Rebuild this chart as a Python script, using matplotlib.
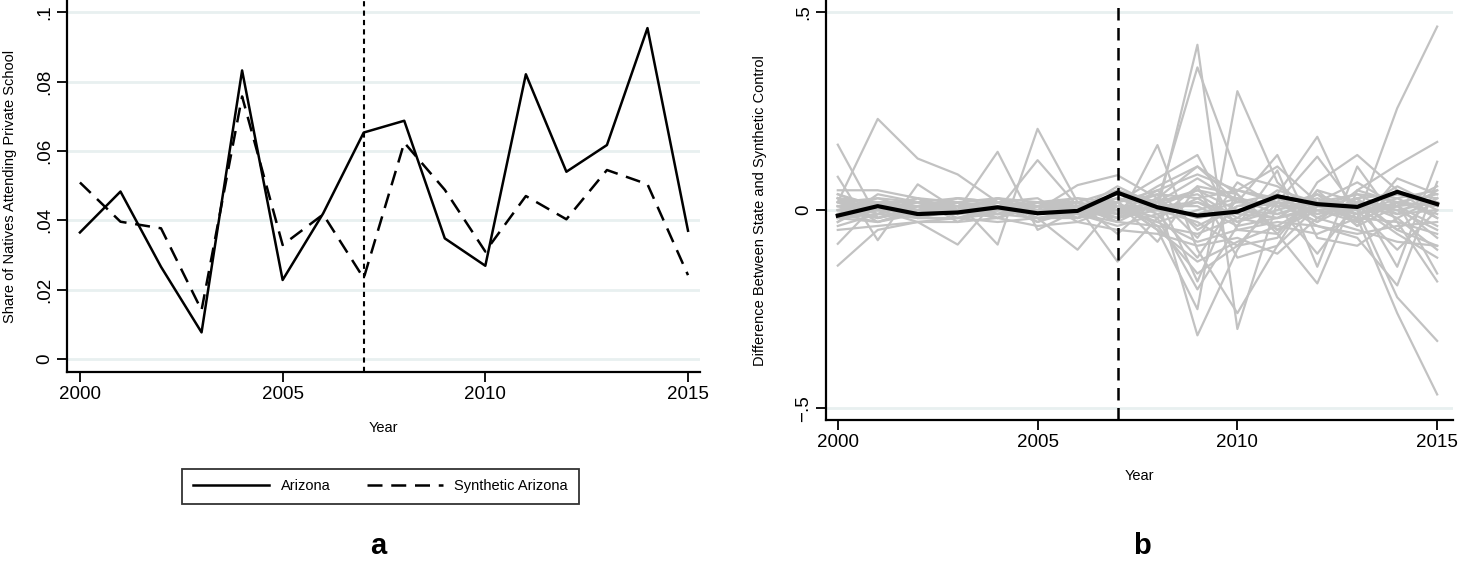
import matplotlib
matplotlib.use("Agg")
import matplotlib.pyplot as plt
import numpy as np

plt.rcParams["font.family"] = ["Liberation Sans", "DejaVu Sans"]

years = list(range(2000, 2016))
treat_year = 2007

# panel a: Arizona vs synthetic Arizona
arizona = [0.0365, 0.0483, 0.0266, 0.0077, 0.0832, 0.0228, 0.0420, 0.0653,
           0.0687, 0.0348, 0.0269, 0.0821, 0.0540, 0.0617, 0.0954, 0.0370]
synthetic = [0.0509, 0.0396, 0.0377, 0.0141, 0.0757, 0.0329, 0.0417, 0.0233,
             0.0624, 0.0488, 0.0310, 0.0470, 0.0403, 0.0545, 0.0504, 0.0242]

# panel b: Arizona gap and placebo gaps
az_gap = [-0.014, 0.010, -0.010, -0.006, 0.007, -0.008, -0.002, 0.044,
          0.007, -0.014, -0.004, 0.035, 0.015, 0.008, 0.046, 0.015]

placebos = [
    [0.02, 0.23, 0.13, 0.09, 0.02, 0.01, 0.00, 0.03, 0.01, -0.02, 0.00, 0.02, -0.01, 0.01, 0.00, 0.02],
    [0.165, -0.02, 0.01, 0.03, 0.02, -0.03, 0.01, 0.02, -0.05, -0.13, -0.08, -0.04, 0.02, -0.01, 0.03, -0.02],
    [0.084, -0.076, 0.065, 0.00, -0.02, 0.01, 0.02, 0.00, 0.06, 0.11, 0.04, -0.05, 0.01, 0.04, -0.01, 0.05],
    [-0.14, -0.05, -0.03, -0.02, 0.00, 0.02, -0.01, 0.01, 0.00, 0.417, -0.30, 0.02, -0.03, 0.02, 0.01, -0.04],
    [0.03, 0.00, -0.03, -0.087, 0.03, -0.01, 0.02, -0.02, 0.02, 0.36, 0.088, 0.06, 0.00, -0.03, 0.02, 0.01],
    [-0.085, 0.02, 0.01, 0.00, 0.147, -0.05, 0.00, 0.02, -0.05, -0.25, 0.30, 0.07, -0.02, 0.03, -0.05, -0.09],
    [0.01, 0.02, -0.01, 0.02, -0.087, 0.205, 0.02, -0.01, 0.03, -0.316, -0.10, 0.04, 0.185, -0.03, 0.02, -0.16],
    [0.00, 0.03, 0.02, 0.01, 0.00, 0.126, 0.01, -0.03, 0.164, -0.10, -0.26, -0.09, 0.07, 0.139, 0.05, 0.00],
    [0.04, 0.01, 0.00, 0.03, 0.02, -0.02, -0.10, 0.02, 0.08, 0.139, -0.05, -0.06, -0.185, 0.05, 0.114, 0.172],
    [-0.03, 0.04, 0.02, -0.01, 0.01, 0.00, 0.063, 0.088, 0.03, 0.11, 0.02, 0.139, -0.07, -0.09, -0.02, 0.03],
    [0.02, -0.01, 0.03, 0.00, -0.02, 0.02, 0.01, -0.13, -0.02, -0.20, -0.04, 0.10, -0.143, 0.11, -0.03, -0.18],
    [-0.02, 0.00, 0.01, 0.02, 0.01, -0.03, 0.00, 0.03, 0.01, 0.05, 0.00, -0.02, 0.00, -0.02, 0.257, 0.463],
    [0.01, -0.02, 0.00, 0.01, -0.01, 0.02, -0.02, 0.01, -0.03, 0.00, 0.03, -0.01, 0.02, -0.02, -0.26, -0.465],
    [-0.01, 0.02, -0.02, 0.00, 0.03, 0.01, 0.01, -0.02, 0.00, -0.03, -0.09, 0.02, 0.135, 0.00, -0.22, -0.33],
    [0.00, 0.01, 0.03, -0.03, 0.02, 0.00, -0.02, 0.02, -0.08, 0.06, -0.12, -0.09, 0.01, 0.03, -0.143, 0.122],
    [0.03, -0.03, 0.00, 0.02, -0.02, 0.01, 0.03, 0.00, 0.04, -0.18, 0.05, 0.02, -0.04, -0.07, -0.19, 0.071],
    [0.05, 0.05, 0.03, 0.02, 0.03, 0.02, 0.02, 0.05, 0.02, 0.08, 0.02, 0.04, -0.02, 0.03, 0.04, 0.02],
    [-0.05, -0.04, -0.03, -0.03, -0.02, -0.04, -0.03, -0.05, -0.06, -0.09, -0.07, -0.11, -0.02, -0.05, -0.08, -0.09],
    [0.02, 0.01, -0.01, 0.01, 0.00, 0.01, 0.00, -0.02, 0.03, -0.04, 0.01, 0.03, -0.01, 0.02, 0.00, -0.05],
    [-0.02, -0.03, 0.00, -0.01, 0.02, -0.01, 0.01, 0.03, -0.01, 0.02, -0.03, 0.00, 0.03, -0.01, 0.02, 0.04],
    [0.03, 0.02, 0.02, 0.01, 0.02, 0.00, 0.01, 0.04, 0.02, 0.05, 0.03, 0.01, 0.04, 0.00, 0.06, 0.01],
    [-0.04, -0.01, -0.02, -0.02, -0.03, -0.02, -0.01, -0.03, -0.04, -0.06, -0.02, -0.04, -0.06, -0.02, -0.03, -0.06],
    [0.01, 0.00, 0.01, -0.01, 0.01, 0.01, -0.01, 0.01, 0.00, -0.01, 0.02, 0.01, 0.00, 0.01, -0.01, 0.00],
    [-0.01, 0.01, -0.01, 0.00, -0.01, 0.00, 0.00, -0.01, 0.01, 0.02, -0.01, -0.02, 0.01, -0.01, 0.01, 0.02],
    [0.04, 0.00, 0.02, 0.03, 0.01, 0.02, 0.03, 0.02, 0.04, 0.03, 0.05, 0.03, 0.02, 0.04, 0.03, 0.05],
    [-0.03, 0.02, -0.02, -0.02, -0.01, -0.02, -0.02, 0.00, -0.03, -0.08, -0.05, -0.03, -0.04, -0.06, -0.04, -0.03],
    [0.00, -0.02, 0.01, 0.02, 0.00, -0.01, 0.02, -0.03, 0.02, 0.04, -0.02, 0.05, 0.02, -0.03, 0.05, -0.02],
    [0.02, 0.03, 0.00, -0.01, 0.02, 0.03, -0.03, 0.01, -0.02, 0.06, 0.04, -0.06, 0.05, 0.02, -0.05, 0.03],
    [-0.02, -0.01, 0.02, 0.01, -0.02, 0.01, 0.02, -0.01, 0.05, -0.05, 0.01, 0.02, -0.03, 0.05, 0.02, -0.01],
    [0.01, 0.02, 0.00, 0.01, 0.02, -0.02, 0.00, 0.06, 0.01, 0.01, -0.04, -0.02, 0.04, -0.04, 0.01, 0.06],
    [-0.01, -0.03, -0.01, 0.02, 0.00, 0.00, -0.01, -0.04, -0.01, -0.12, 0.03, -0.05, 0.00, 0.01, -0.06, -0.12],
    [0.03, -0.01, 0.01, 0.00, 0.03, -0.01, 0.01, 0.02, 0.05, 0.09, 0.05, 0.11, 0.02, 0.07, 0.01, -0.07],
    [-0.02, 0.01, -0.02, 0.02, -0.01, 0.02, -0.02, 0.02, -0.04, -0.16, -0.09, -0.07, 0.05, -0.04, 0.08, 0.04],
    [0.00, 0.00, 0.02, -0.02, 0.01, 0.01, 0.02, -0.06, 0.03, -0.07, 0.07, 0.01, -0.11, 0.02, -0.02, -0.10],
    [0.02, -0.02, 0.00, 0.01, -0.01, 0.00, 0.01, 0.01, -0.02, 0.03, -0.03, 0.02, 0.01, 0.00, -0.10, 0.00],
    [-0.01, 0.00, 0.01, -0.01, 0.00, 0.02, 0.00, 0.00, 0.02, -0.02, 0.00, -0.01, 0.02, 0.01, 0.04, 0.03],
]

GRID = "#e8f0f0"
GREY = "#c2c2c2"


def style_axes(ax):
    for s in ("top", "right"):
        ax.spines[s].set_visible(False)
    for s in ("left", "bottom"):
        ax.spines[s].set_linewidth(1.6)
    ax.tick_params(direction="out", length=7, width=1.3, labelsize=13.5, pad=3)
    ax.yaxis.grid(True, color=GRID, lw=2.0)
    ax.set_axisbelow(True)
    for lab in ax.get_yticklabels():
        lab.set_rotation(90)
        lab.set_va("center")


fig = plt.figure(figsize=(14.59, 5.61), dpi=100)

# panel a ------------------------------------------------------------------- #
ax1 = fig.add_axes([0.0459, 0.337, 0.434, 0.663])
ax1.plot(years, arizona, color="black", lw=1.8, label="Arizona")
ax1.plot(years, synthetic, color="black", lw=1.8, ls=(0, (6, 3.5)), label="Synthetic Arizona")
ax1.axvline(treat_year, color="black", lw=1.5, ls=(0, (2.5, 2)))
ax1.set_xlim(1999.68, 2015.3)
ax1.set_ylim(-0.0037, 0.1035)
ax1.set_xticks([2000, 2005, 2010, 2015])
ax1.set_yticks([0, 0.02, 0.04, 0.06, 0.08, 0.1])
ax1.set_yticklabels(["0", ".02", ".04", ".06", ".08", ".1"])
style_axes(ax1)
ax1.set_xlabel("Year", fontsize=10.5, labelpad=13)
ax1.set_ylabel("Share of Natives Attending Private School", fontsize=10.5, labelpad=14)
leg = ax1.legend(loc="upper center", bbox_to_anchor=(0.495, -0.24), ncol=2, frameon=True,
                 fancybox=False, edgecolor="black", fontsize=10.5, handlelength=5.2,
                 columnspacing=2.5, borderpad=0.75)
leg.get_frame().set_linewidth(1.3)

# panel b ------------------------------------------------------------------- #
ax2 = fig.add_axes([0.566, 0.251, 0.430, 0.749])
for series in placebos:
    ax2.plot(years, series, color=GREY, lw=1.6)
ax2.plot(years, az_gap, color="black", lw=3.0)
ax2.axvline(treat_year, color="black", lw=1.8, ls=(0, (5, 3)))
ax2.set_xlim(1999.7, 2015.4)
ax2.set_ylim(-0.53, 0.53)
ax2.set_xticks([2000, 2005, 2010, 2015])
ax2.set_yticks([-0.5, 0, 0.5])
ax2.set_yticklabels(["\u2212.5", "0", ".5"])
style_axes(ax2)
ax2.set_xlabel("Year", fontsize=10.5, labelpad=13)
ax2.set_ylabel("Difference Between State and Synthetic Control", fontsize=10.5, labelpad=20)

fig.text(378 / 1459, 1 - 546 / 561, "a", ha="center", va="center", fontsize=21, fontweight="bold")
fig.text(1142 / 1459, 1 - 546 / 561, "b", ha="center", va="center", fontsize=21, fontweight="bold")

fig.savefig("out.png", dpi=100)
